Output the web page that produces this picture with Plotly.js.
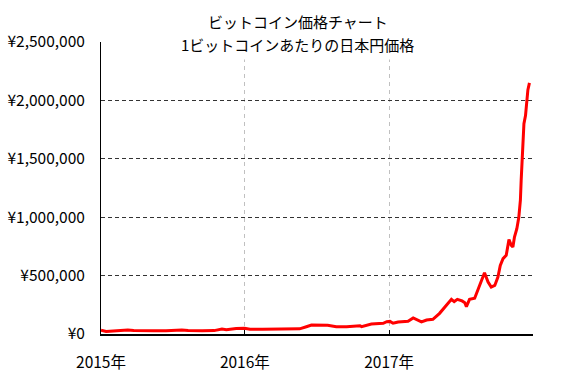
<!DOCTYPE html>
<html>
<head>
<meta charset="utf-8">
<script src="https://cdn.plot.ly/plotly-3.0.1.min.js"></script>
<style>html,body{margin:0;padding:0;background:#fff;}#chart{width:567px;height:377px;}</style>
</head>
<body>
<div id="chart"></div>
<script>
const titleLine1 = "ビットコイン価格チャート";
const titleLine2 = "1ビットコインあたりの日本円価格";

const dates = [
  "2015-01-01","2015-01-14","2015-02-01","2015-02-20","2015-03-10","2015-03-25","2015-04-15",
  "2015-05-15","2015-06-15","2015-07-10","2015-07-25","2015-08-10","2015-08-25","2015-09-15",
  "2015-10-15","2015-11-04","2015-11-15","2015-11-28","2015-12-10","2015-12-31",
  "2016-01-14","2016-02-15","2016-03-15","2016-04-15","2016-05-19","2016-06-05","2016-06-18",
  "2016-07-29","2016-08-20","2016-09-15","2016-10-10","2016-10-19","2016-10-23","2016-11-04",
  "2016-11-17","2016-12-17","2016-12-26",
  "2017-01-03","2017-01-11","2017-01-24","2017-02-18","2017-03-03","2017-03-15","2017-03-24",
  "2017-04-06","2017-04-22","2017-05-09","2017-05-26","2017-06-08","2017-06-15","2017-06-23",
  "2017-07-05","2017-07-12","2017-07-16","2017-07-24","2017-08-06","2017-08-14","2017-08-23",
  "2017-08-31","2017-09-09","2017-09-17","2017-09-26","2017-10-04","2017-10-10","2017-10-17",
  "2017-10-25","2017-11-01","2017-11-07","2017-11-11","2017-11-15","2017-11-21","2017-11-26",
  "2017-11-30","2017-12-02","2017-12-04","2017-12-07","2017-12-09","2017-12-13","2017-12-15",
  "2017-12-19","2017-12-23"
];
const pricesJPY = [
  33000,22000,26000,28000,34000,29000,27000,
  27000,28000,34000,35000,30000,27000,27000,
  29000,42000,37000,43000,48000,50000,
  40000,40000,40000,41000,44000,62000,76000,
  74000,62000,62000,64000,71000,63000,71000,
  86000,91000,105000,
  108000,92000,103000,109000,137000,114000,103000,
  120000,126000,177000,240000,297000,277000,297000,
  283000,268000,234000,297000,306000,377000,448000,
  525000,444000,401000,416000,487000,587000,645000,
  673000,808000,759000,744000,830000,902000,1000000,
  1145000,1317000,1430000,1630000,1800000,1870000,1970000,
  2090000,2150000
];

const yTickVals = [0,500000,1000000,1500000,2000000,2500000];
const yTickText = ["¥0","¥500,000","¥1,000,000","¥1,500,000","¥2,000,000","¥2,500,000"];
const xTickVals = ["2015-01-01","2016-01-01","2017-01-01"];
const xTickText = ["2015年","2016年","2017年"];
const xRange = ["2015-01-01","2018-01-01"];
const yRange = [0,2500000];

const font = "Noto Sans CJK JP, sans-serif";

Plotly.newPlot("chart", [{
  x: dates, y: pricesJPY, type: "scatter", mode: "lines",
  line: {color: "#ff0000", width: 3}, hoverinfo: "skip"
}], {
  width: 567, height: 377,
  margin: {l: 101, r: 34, t: 42, b: 43},
  paper_bgcolor: "#ffffff", plot_bgcolor: "#ffffff",
  showlegend: false,
  font: {family: font, size: 15, color: "#000"},
  xaxis: {
    type: "date", range: xRange, tickvals: xTickVals, ticktext: xTickText,
    showgrid: true, gridcolor: "#c0c0c0", griddash: "4px,4px", gridwidth: 1,
    showline: true, linecolor: "#000", linewidth: 2, zeroline: false,
    ticks: "inside", ticklen: 4, tickcolor: "#000", tickwidth: 1,
    ticklabelstandoff: 13, tickfont: {family: font, size: 15.5, color: "#000"}
  },
  yaxis: {
    range: yRange, tickvals: yTickVals, ticktext: yTickText,
    showgrid: true, gridcolor: "#333", griddash: "4px,3px", gridwidth: 1,
    showline: true, linecolor: "#000", linewidth: 1, zeroline: false,
    ticks: "", ticklabelstandoff: 12, tickfont: {family: font, size: 15.5, color: "#000"}
  },
  annotations: [
    {text: titleLine1, xref: "paper", yref: "paper", x: 0.456, y: 1.07,
     xanchor: "center", yanchor: "middle", showarrow: false,
     font: {family: font, size: 15, color: "#000"}},
    {text: titleLine2, xref: "paper", yref: "paper", x: 0.456, y: 0.993,
     xanchor: "center", yanchor: "middle", showarrow: false, bgcolor: "#ffffff", borderpad: 4,
     font: {family: font, size: 15, color: "#000"}}
  ]
}, {staticPlot: true, displayModeBar: false});
</script>
</body>
</html>
